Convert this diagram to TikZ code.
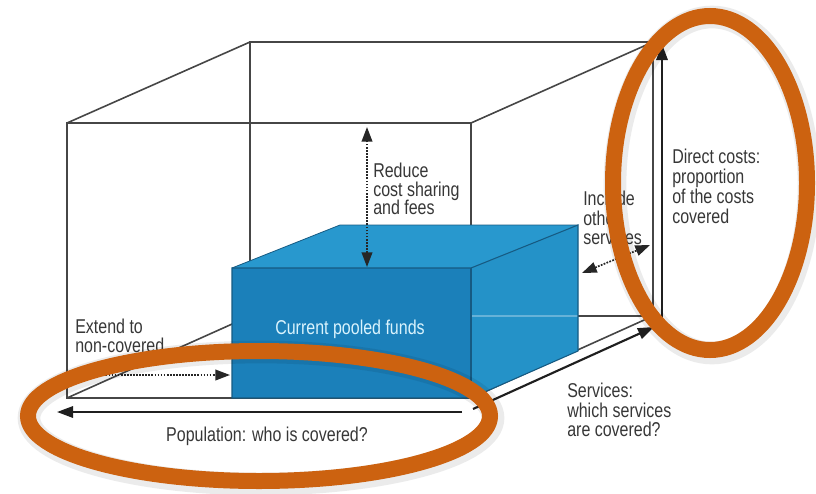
\documentclass[tikz,border=0pt]{standalone}
\usepackage{fontspec}
\setmainfont[FakeStretch=0.8]{Liberation Sans}
\usetikzlibrary{arrows.meta}
\definecolor{orng}{RGB}{204,98,16}
\definecolor{bfront}{RGB}{27,128,186}
\definecolor{btop}{RGB}{40,152,206}
\definecolor{bright}{RGB}{36,146,200}
\definecolor{bedge}{RGB}{22,90,130}
\definecolor{wire}{RGB}{70,70,70}
\definecolor{txt}{RGB}{55,55,55}
\tikzset{
  wireline/.style={draw=wire, line width=1.2pt},
  bigarrow/.style={draw=black!88, line width=1.6pt, -{Triangle[length=12pt,width=8.5pt]}},
  dotarrow/.style={draw=black!85, line width=1.3pt, densely dotted, {Triangle[length=11pt,width=8pt]}-{Triangle[length=11pt,width=8pt]}},
  dotarrowone/.style={draw=black!85, line width=1.3pt, densely dotted, -{Triangle[length=11pt,width=8pt]}},
  lbl/.style={text=txt, font=\fontsize{15}{14.5}\selectfont, align=left, inner sep=0pt},
  ring/.style={draw=orng, line width=12pt},
  ringshadow/.style={draw=black, opacity=0.08, line width=17pt},
}
\begin{document}
\begin{tikzpicture}[x={(0.75pt,0)}, y={(0,-0.75pt)}]
\useasboundingbox (0,0) rectangle (816,493);
% outer wireframe box
\coordinate (FTL) at (67,123);
\coordinate (FTR) at (471,123);
\coordinate (FBL) at (67,398);
\coordinate (FBR) at (471,398);
\coordinate (BTL) at (250,42);
\coordinate (BTR) at (653,42);
\coordinate (BBL) at (250,316);
\coordinate (BBR) at (653,316);
\draw[wireline] (FTL) -- (FTR) -- (FBR) -- (FBL) -- cycle;
\draw[wireline] (BTL) -- (BTR) -- (BBR) -- (BBL) -- cycle;
\draw[wireline] (FTL) -- (BTL);
\draw[wireline] (FTR) -- (BTR);
\draw[wireline] (FBL) -- (BBL);
\draw[wireline] (FBR) -- (BBR);
% blue box
\coordinate (pFBL) at (232,398);
\coordinate (pFBR) at (471,398);
\coordinate (pFTL) at (232,268);
\coordinate (pFTR) at (471,268);
\coordinate (pBTL) at (340,225);
\coordinate (pBTR) at (578,225);
\coordinate (pBBR) at (578,351);
\fill[btop] (pFTL) -- (pFTR) -- (pBTR) -- (pBTL) -- cycle;
\fill[bright] (pFTR) -- (pBTR) -- (pBBR) -- (pFBR) -- cycle;
\fill[bfront] (pFTL) -- (pFTR) -- (pFBR) -- (pFBL) -- cycle;
\coordinate (hA) at (471,316);
\coordinate (hB) at (578,316);
\draw[draw=white, opacity=0.3, line width=1pt] (hA) -- (hB);
\draw[bedge, line width=0.8pt] (pFTL) -- (pFTR) -- (pBTR) -- (pBBR) -- (pFBR) -- (pFBL) -- cycle;
\draw[bedge, line width=0.8pt] (pFTR) -- (pFBR);
\draw[bedge, line width=0.6pt] (pFTL) -- (pBTL) -- (pBTR);
\node[text=white!85!cyan, font=\fontsize{15}{15}\selectfont, inner sep=0pt] (pool) at (350,329) {Current pooled funds};
% arrows
\coordinate (dcB) at (662,318);
\coordinate (dcT) at (662,44);
\draw[bigarrow] (dcB) -- (dcT);
\coordinate (popR) at (462,412);
\coordinate (popL) at (57,412);
\draw[bigarrow] (popR) -- (popL);
\coordinate (svA) at (473,409);
\coordinate (svB) at (654,327);
\draw[bigarrow] (svA) -- (svB);
\coordinate (rdT) at (367,127);
\coordinate (rdB) at (367,267);
\draw[dotarrow] (rdB) -- (rdT);
\coordinate (icA) at (582,273);
\coordinate (icB) at (650,245);
\draw[dotarrow] (icA) -- (icB);
\coordinate (exA) at (84,375);
\coordinate (exB) at (230,375);
\draw[dotarrowone] (exA) -- (exB);
% labels
\node[lbl, font=\fontsize{15}{14}\selectfont, anchor=west] (reduce) at (373,189) {Reduce\\cost sharing\\and fees};
\node[lbl, anchor=west] (include) at (583,218) {Include\\other\\services};
\node[lbl, anchor=west] (extend) at (75,336) {Extend to\\non-covered};
\node[lbl, font=\fontsize{15}{15}\selectfont, anchor=west] (direct) at (672,186) {Direct costs:\\proportion\\of the costs\\covered};
\node[lbl, anchor=west] (serv) at (567,410) {Services:\\which services\\are covered?};
\node[lbl] (popl) at (267,436) {Population: who is covered?};
% highlight rings
\draw[ringshadow] (712,185) ellipse [x radius=97, y radius=168];
\draw[ringshadow] (261,418) ellipse [x radius=232, y radius=66];
\draw[ring] (710,183) ellipse [x radius=97, y radius=167];
\draw[ring] (259,416) ellipse [x radius=231, y radius=65];
\end{tikzpicture}
\end{document}
